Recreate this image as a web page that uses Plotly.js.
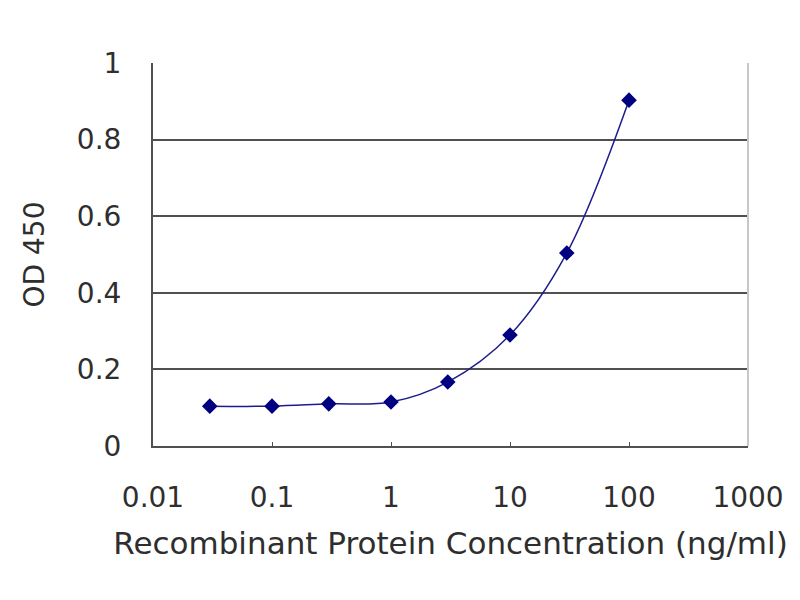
<!DOCTYPE html>
<html>
<head>
<meta charset="utf-8">
<script src="https://cdn.plot.ly/plotly-3.0.1.min.js"></script>
<style>html,body{margin:0;padding:0;background:#fff;}#chart{width:800px;height:600px;}</style>
</head>
<body>
<div id="chart"></div>
<script>
const concentration = [0.03, 0.1, 0.3, 1, 3, 10, 30, 100];
const od450 = [0.104, 0.104, 0.110, 0.115, 0.167, 0.290, 0.504, 0.903];
const xTickVals = [0.01, 0.1, 1, 10, 100, 1000];
const xTickText = ['0.01', '0.1', '1', '10', '100', '1000'];
const yTickVals = [0, 0.2, 0.4, 0.6, 0.8, 1];
const yTickText = ['0', '0.2', '0.4', '0.6', '0.8', '1'];

const font = 'DejaVu Sans, Arial, sans-serif';
const trace = {
  x: concentration,
  y: od450,
  type: 'scatter',
  mode: 'lines+markers',
  line: {color: '#1c1c8e', width: 1.5, shape: 'spline', smoothing: 1},
  marker: {symbol: 'diamond', size: 12, color: '#000080'},
  hoverinfo: 'x+y'
};
const layout = {
  width: 800, height: 600, autosize: false,
  paper_bgcolor: '#ffffff', plot_bgcolor: '#ffffff',
  margin: {l: 153, r: 52, t: 63, b: 154, pad: 0},
  showlegend: false,
  font: {family: font, color: '#2e2e2e'},
  xaxis: {
    type: 'log', range: [-2, 3],
    tickvals: xTickVals, ticktext: xTickText,
    showgrid: false, zeroline: false,
    showline: true, linecolor: '#505050', linewidth: 2,
    ticks: 'inside', ticklen: 4, tickcolor: '#505050',
    ticklabelstandoff: 25,
    tickfont: {size: 28, family: font, color: '#2e2e2e'},
    title: {text: 'Recombinant Protein Concentration (ng/ml)', standoff: 20, font: {size: 31, family: font, color: '#2e2e2e'}}
  },
  yaxis: {
    range: [0, 1],
    tickvals: yTickVals, ticktext: yTickText,
    showgrid: true, gridcolor: '#505050', gridwidth: 2,
    zeroline: false,
    showline: true, linecolor: '#505050', linewidth: 2,
    ticks: 'inside', ticklen: 4, tickcolor: '#505050',
    ticklabelstandoff: 24,
    tickfont: {size: 28, family: font, color: '#2e2e2e'},
    title: {text: 'OD 450', standoff: 24, font: {size: 28, family: font, color: '#2e2e2e'}}
  },
  shapes: [
    {type: 'line', xref: 'paper', yref: 'paper', x0: 1, x1: 1, y0: 0, y1: 1, line: {color: '#c8c8c8', width: 2}}
  ]
};
Plotly.newPlot('chart', [trace], layout, {displayModeBar: false, staticPlot: true});
</script>
</body>
</html>
